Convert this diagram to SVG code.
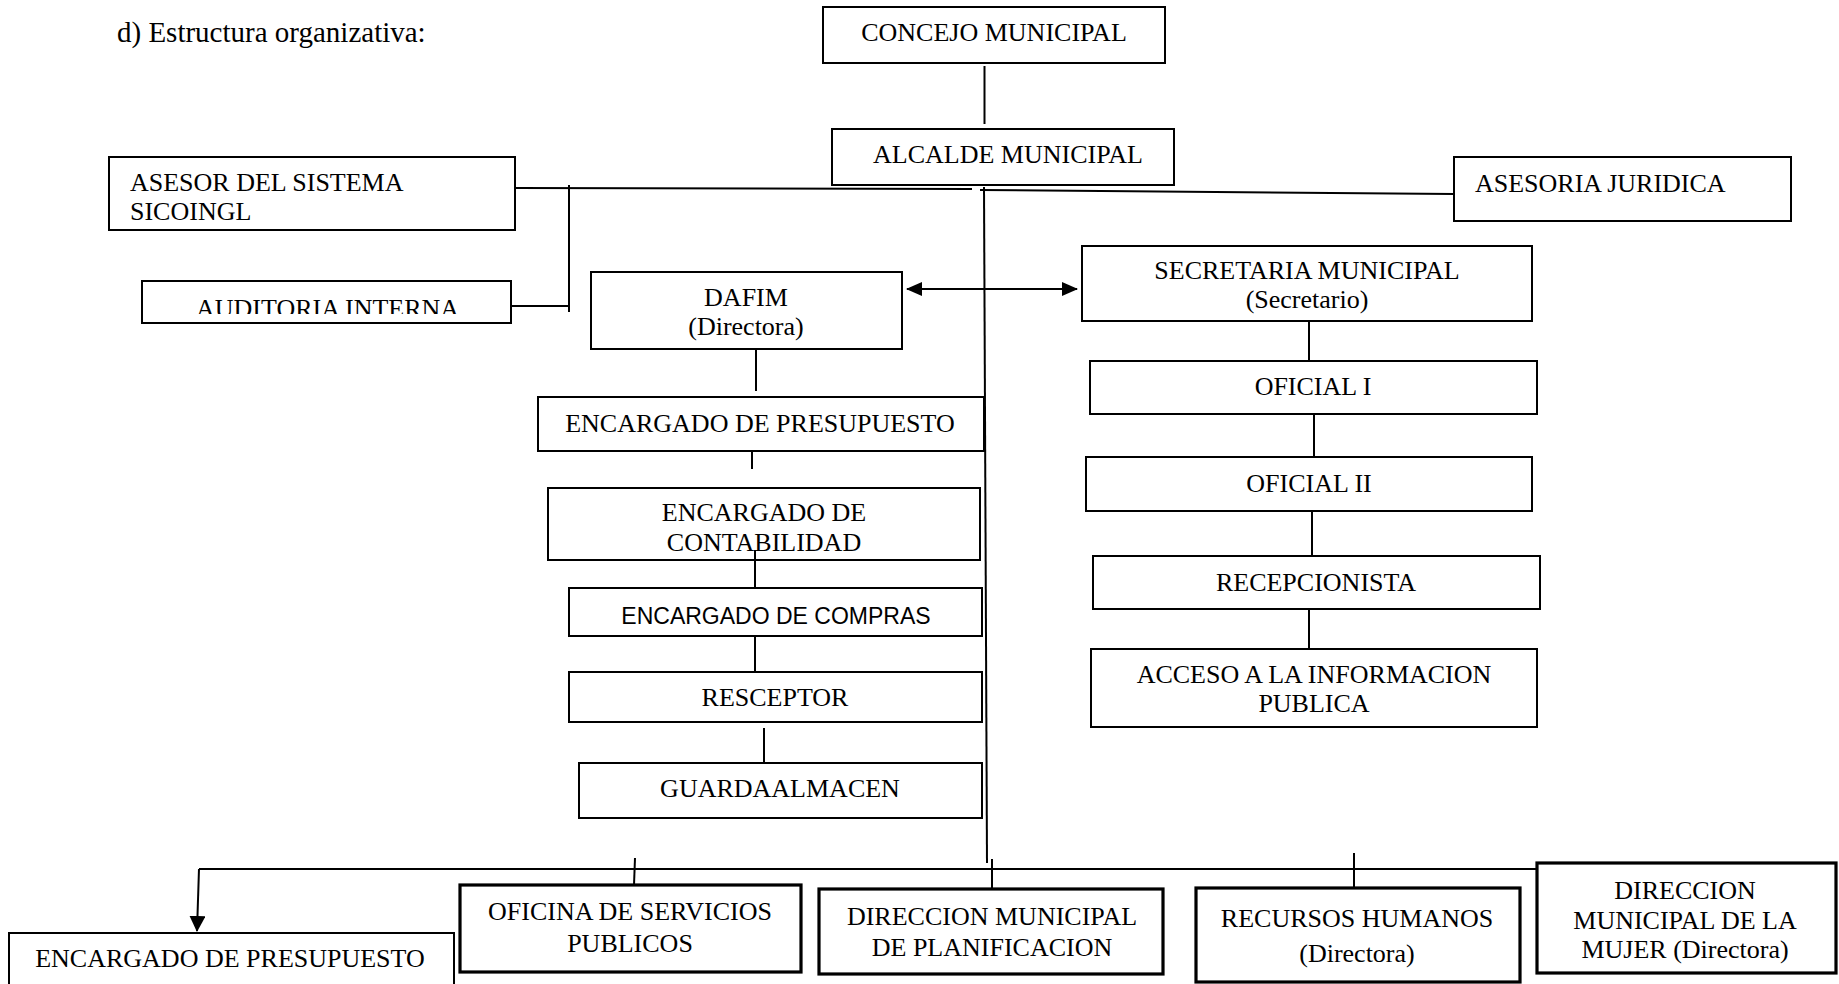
<svg xmlns="http://www.w3.org/2000/svg" width="1839" height="984" viewBox="0 0 1839 984">
<defs>
<style>
.bx{fill:#fff;stroke:#000;stroke-width:2}
.bt{fill:#fff;stroke:#000;stroke-width:3.2}
.t{font-family:"Liberation Serif","Times New Roman",serif;font-size:26px;fill:#000}
.c{text-anchor:middle}
.s{font-family:"Liberation Sans",Arial,sans-serif;font-size:23px;fill:#000}
.ln{stroke:#000;stroke-width:2;fill:none}
</style>
<marker id="ah" viewBox="0 0 16 14" refX="15" refY="7" markerWidth="16" markerHeight="14" markerUnits="userSpaceOnUse" orient="auto-start-reverse">
<path d="M0,0 L16,7 L0,14 Z" fill="#000"/>
</marker>
<marker id="ad" viewBox="0 0 16 16" refX="15" refY="8" markerWidth="16" markerHeight="16" markerUnits="userSpaceOnUse" orient="auto">
<path d="M0,0 L16,8 L0,16 Z" fill="#000"/>
</marker>
<clipPath id="audclip"><rect x="143" y="282" width="367" height="32"/></clipPath>
</defs>
<rect width="1839" height="984" fill="#fff"/>
<text x="117" y="42" font-family="Liberation Serif, Times New Roman, serif" font-size="29" fill="#000">d) Estructura organizativa:</text>

<g id="connectors">
<line class="ln" x1="984.5" y1="66" x2="984.5" y2="124"/>
<line class="ln" x1="515" y1="188" x2="972" y2="189"/>
<line class="ln" x1="980" y1="190" x2="1454" y2="194"/>
<line class="ln" x1="569" y1="185" x2="569" y2="312"/>
<line class="ln" x1="511" y1="306" x2="569" y2="306"/>
<line class="ln" x1="984" y1="187" x2="987" y2="863"/>
<line class="ln" x1="907" y1="289" x2="1077" y2="289" stroke-width="3" marker-start="url(#ah)" marker-end="url(#ah)"/>
<line class="ln" x1="756" y1="349" x2="756" y2="391"/>
<line class="ln" x1="752" y1="448" x2="752" y2="469"/>
<line class="ln" x1="755" y1="550" x2="755" y2="588"/>
<line class="ln" x1="755" y1="636" x2="755" y2="672"/>
<line class="ln" x1="764" y1="728" x2="764" y2="763"/>
<line class="ln" x1="1309" y1="321" x2="1309" y2="361"/>
<line class="ln" x1="1314" y1="414" x2="1314" y2="457"/>
<line class="ln" x1="1312" y1="511" x2="1312" y2="556"/>
<line class="ln" x1="1309" y1="607" x2="1309" y2="649"/>
<line class="ln" x1="199" y1="869" x2="1537" y2="869"/>
<line class="ln" x1="199" y1="869" x2="197" y2="931" stroke-width="2.5" marker-end="url(#ad)"/>
<line class="ln" x1="635" y1="858" x2="634" y2="885"/>
<line class="ln" x1="992" y1="859" x2="992" y2="889"/>
<line class="ln" x1="1354" y1="853" x2="1354" y2="888"/>
</g>

<g id="concejo"><rect class="bx" x="823" y="7" width="342" height="56"/><text class="t c" x="994" y="41">CONCEJO MUNICIPAL</text></g>
<g id="alcalde"><rect class="bx" x="832" y="129" width="342" height="56"/><text class="t c" x="1008" y="163">ALCALDE MUNICIPAL</text></g>
<g id="asesor"><rect class="bx" x="109" y="157" width="406" height="73"/><text class="t" x="130" y="191">ASESOR DEL SISTEMA</text><text class="t" x="130" y="220">SICOINGL</text></g>
<g id="juridica"><rect class="bx" x="1454" y="157" width="337" height="64"/><text class="t" x="1475" y="192">ASESORIA JURIDICA</text></g>
<g id="auditoria"><rect class="bx" x="142" y="281" width="369" height="42"/><text class="t" x="196" y="317" clip-path="url(#audclip)">AUDITORIA INTERNA</text></g>
<g id="dafim"><rect class="bx" x="591" y="272" width="311" height="77"/><text class="t c" x="746" y="306">DAFIM</text><text class="t c" x="746" y="335">(Directora)</text></g>
<g id="secretaria"><rect class="bx" x="1082" y="246" width="450" height="75"/><text class="t c" x="1307" y="279">SECRETARIA MUNICIPAL</text><text class="t c" x="1307" y="308">(Secretario)</text></g>
<g id="oficial1"><rect class="bx" x="1090" y="361" width="447" height="53"/><text class="t c" x="1313" y="395">OFICIAL I</text></g>
<g id="oficial2"><rect class="bx" x="1086" y="457" width="446" height="54"/><text class="t c" x="1309" y="492">OFICIAL II</text></g>
<g id="recepcionista"><rect class="bx" x="1093" y="556" width="447" height="53"/><text class="t c" x="1316" y="591">RECEPCIONISTA</text></g>
<g id="acceso"><rect class="bx" x="1091" y="649" width="446" height="78"/><text class="t c" x="1314" y="683">ACCESO A LA INFORMACION</text><text class="t c" x="1314" y="712">PUBLICA</text></g>
<g id="presupuesto"><rect class="bx" x="538" y="397" width="446" height="54"/><text class="t c" x="760" y="432">ENCARGADO DE PRESUPUESTO</text></g>
<g id="contabilidad"><rect class="bx" x="548" y="488" width="432" height="72"/><text class="t c" x="764" y="521">ENCARGADO DE</text><text class="t c" x="764" y="551">CONTABILIDAD</text><line class="ln" x1="755" y1="550" x2="755" y2="560"/></g>
<g id="compras"><rect class="bx" x="569" y="588" width="413" height="48"/><text class="s c" x="776" y="624">ENCARGADO DE COMPRAS</text></g>
<g id="resceptor"><rect class="bx" x="569" y="672" width="413" height="50"/><text class="t c" x="775" y="706">RESCEPTOR</text></g>
<g id="guardaalmacen"><rect class="bx" x="579" y="763" width="403" height="55"/><text class="t c" x="780" y="797">GUARDAALMACEN</text></g>

<g id="presupuesto2"><rect class="bx" x="9" y="933" width="445" height="70"/><text class="t c" x="230" y="967">ENCARGADO DE PRESUPUESTO</text></g>
<g id="servicios"><rect class="bt" x="460" y="885" width="341" height="87"/><text class="t c" x="630" y="920">OFICINA DE SERVICIOS</text><text class="t c" x="630" y="952">PUBLICOS</text></g>
<g id="planificacion"><rect class="bt" x="819" y="889" width="344" height="85"/><text class="t c" x="992" y="925">DIRECCION MUNICIPAL</text><text class="t c" x="992" y="956">DE PLANIFICACION</text></g>
<g id="rrhh"><rect class="bt" x="1196" y="888" width="324" height="94"/><text class="t c" x="1357" y="927">RECURSOS HUMANOS</text><text class="t c" x="1357" y="962">(Directora)</text></g>
<g id="mujer"><rect class="bt" x="1537" y="863" width="299" height="110"/><text class="t c" x="1685" y="899">DIRECCION</text><text class="t c" x="1685" y="929">MUNICIPAL DE LA</text><text class="t c" x="1685" y="958">MUJER (Directora)</text></g>
</svg>
